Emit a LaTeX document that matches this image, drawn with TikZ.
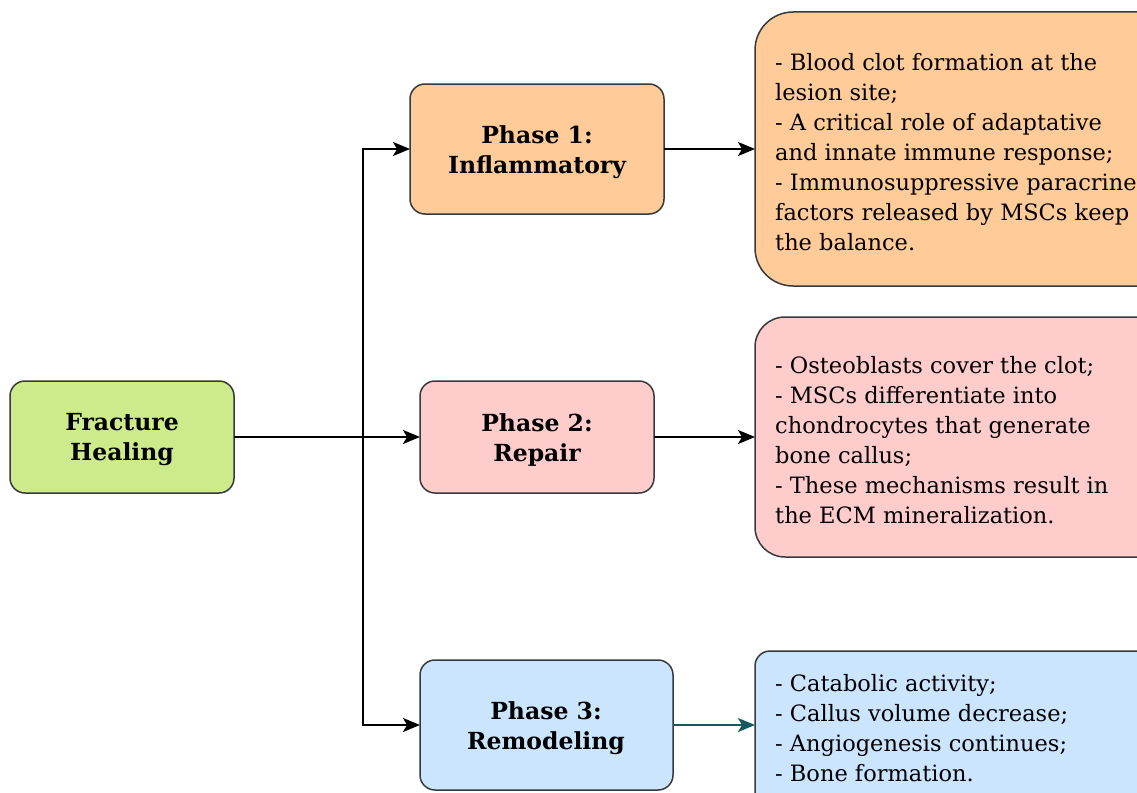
\documentclass[tikz,border=0pt]{standalone}
\usepackage{fontspec}
\setmainfont{DejaVu Serif}
\usetikzlibrary{arrows.meta}
\definecolor{bordc}{HTML}{36393D}
\definecolor{greenf}{HTML}{CDEB8B}
\definecolor{orangef}{HTML}{FFCC99}
\definecolor{pinkf}{HTML}{FFCCCC}
\definecolor{bluef}{HTML}{CCE5FF}
\definecolor{tealc}{HTML}{145A5F}
\tikzset{
  box/.style={draw=bordc, line width=1.5pt, rounded corners=15pt},
  lbl/.style={font=\fontsize{23.5}{30}\selectfont\bfseries, align=center, text=black},
  desc/.style={font=\fontsize{22.5}{30}\selectfont, align=left, anchor=west, text=black, inner sep=0pt},
  arr/.style={line width=1.7pt, -{Stealth[length=17pt,width=14pt,inset=4pt]}},
}
\begin{document}
\begin{tikzpicture}[x=1pt,y=-1pt]
\clip (0,0) rectangle (1137,792);
\fill[white] (0,0) rectangle (1137,792);
% boxes
\draw[box, fill=greenf] (10,381) rectangle (234,493);
\draw[box, fill=orangef] (410,84) rectangle (664,214);
\draw[box, fill=pinkf] (420,381) rectangle (654,493);
\draw[box, fill=bluef] (420,660) rectangle (673,790);
\draw[box, fill=orangef, rounded corners=38pt] (755,12) rectangle (1175,286);
\draw[box, fill=pinkf, rounded corners=30pt] (755,317) rectangle (1175,557);
\draw[box, fill=bluef] (755,651) rectangle (1175,810);
% labels
\node[lbl] (fh) at (122,440) {Fracture\\Healing};
\node[lbl] (p1) at (537,152) {Phase 1:\\Inflammatory};
\node[lbl] (p2) at (537,440) {Phase 2:\\Repair};
\node[lbl] (p3) at (546,728) {Phase 3:\\Remodeling};
\node[desc] (d1) at (775,152) {- Blood clot formation at the\\lesion site;\\- A critical role of adaptative\\and innate immune response;\\- Immunosuppressive paracrine\\factors released by MSCs keep\\the balance.};
\node[desc] (d2) at (775,440) {- Osteoblasts cover the clot;\\- MSCs differentiate into\\chondrocytes that generate\\bone callus;\\- These mechanisms result in\\the ECM mineralization.};
\node[desc] (d3) at (775,728) {- Catabolic activity;\\- Callus volume decrease;\\- Angiogenesis continues;\\- Bone formation.};
% anchors
\coordinate (fhE) at (234,437);
\coordinate (j) at (363,437);
\coordinate (p1W) at (410,149);
\coordinate (p2W) at (420,437);
\coordinate (p3W) at (420,725);
\coordinate (p1E) at (664,149);
\coordinate (p2E) at (654,437);
\coordinate (p3E) at (673,725);
\coordinate (d1W) at (755,149);
\coordinate (d2W) at (755,437);
\coordinate (d3W) at (755,725);
\draw[arr] (fhE) -- (p2W);
\draw[arr] (j) |- (p1W);
\draw[arr] (j) |- (p3W);
\draw[arr] (p1E) -- (d1W);
\draw[arr] (p2E) -- (d2W);
\draw[arr, draw=tealc, fill=tealc, line width=1.5pt] (p3E) -- (d3W);
\end{tikzpicture}
\end{document}
